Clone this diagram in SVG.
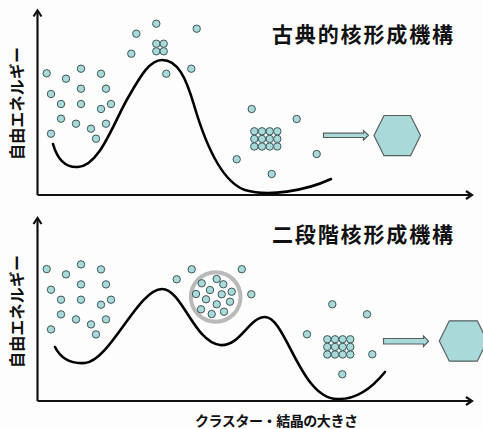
<svg xmlns="http://www.w3.org/2000/svg" width="483" height="429" viewBox="0 0 483 429">
  <style>
    .axis { fill: none; stroke: #111; stroke-width: 2.2; }
    .curve { fill: none; stroke: #000; stroke-width: 2.6; stroke-linecap: round; }
    .p { fill: #a9d9d9; stroke: #3d5757; stroke-width: 1; }
    .solid { fill: #a9d9d9; stroke: #55605f; stroke-width: 1.2; }
    .ring { fill: none; stroke: #b9b9b9; stroke-width: 4; }
    .title { font-family: "Noto Sans CJK JP", "Noto Sans", sans-serif; font-weight: bold; font-size: 21px; fill: #111; }
    .lbl { font-family: "Noto Sans CJK JP", "Noto Sans", sans-serif; font-weight: bold; font-size: 16px; fill: #111; }
    .xlbl { font-family: "Noto Sans CJK JP", "Noto Sans", sans-serif; font-weight: bold; font-size: 14px; fill: #111; }
  </style>
  <defs>
    <marker id="tip" markerUnits="userSpaceOnUse" markerWidth="14" markerHeight="14" refX="0" refY="0" viewBox="-8 -7 10 14" orient="auto">
      <path d="M-6,-4 L0,0 L-6,4" fill="none" stroke="#111" stroke-width="2.2" stroke-linejoin="miter"/>
    </marker>
  </defs>
  <rect width="483" height="429" fill="#fdfdfe"/>

  <!-- upper panel: classical nucleation -->
  <g id="classical">
    <g id="axes-top">
      <path class="axis" d="M37.5,195 V10.5" marker-end="url(#tip)"/>
      <path class="axis" d="M37.5,195 H472" marker-end="url(#tip)"/>
    </g>
    <text class="lbl" transform="translate(16,103.5) rotate(-90)" text-anchor="middle" dominant-baseline="central" textLength="113" lengthAdjust="spacing">自由エネルギー</text>
    <text class="title" x="362.5" y="41.5" text-anchor="middle" textLength="181" lengthAdjust="spacing">古典的核形成機構</text>
    <path class="curve" d="M53,144 C57,158 64,168 78,167 C100,166 114,121 129,96 C141,75 150,60 162,60 C178,60 186,78 194,105 C206,146 222,182 245,190 C268,197 305,191 331,179"/>
    <g id="monomers-top">
      <circle class="p" cx="46.7" cy="73.3" r="3.7"/>
      <circle class="p" cx="66" cy="78.7" r="3.7"/>
      <circle class="p" cx="81" cy="68.7" r="3.7"/>
      <circle class="p" cx="101" cy="73.7" r="3.7"/>
      <circle class="p" cx="51" cy="94" r="3.7"/>
      <circle class="p" cx="81" cy="88.7" r="3.7"/>
      <circle class="p" cx="106" cy="88.7" r="3.7"/>
      <circle class="p" cx="61" cy="104" r="3.7"/>
      <circle class="p" cx="81" cy="104" r="3.7"/>
      <circle class="p" cx="101" cy="109" r="3.7"/>
      <circle class="p" cx="111" cy="104" r="3.7"/>
      <circle class="p" cx="61" cy="118.7" r="3.7"/>
      <circle class="p" cx="76" cy="123.7" r="3.7"/>
      <circle class="p" cx="91" cy="128.7" r="3.7"/>
      <circle class="p" cx="106" cy="123.7" r="3.7"/>
      <circle class="p" cx="51" cy="133.7" r="3.7"/>
      <circle class="p" cx="96" cy="138.7" r="3.7"/>
      <circle class="p" cx="156.3" cy="23.7" r="3.7"/>
      <circle class="p" cx="136.3" cy="33.7" r="3.7"/>
      <circle class="p" cx="196.7" cy="28.7" r="3.7"/>
      <circle class="p" cx="131.3" cy="53.7" r="3.7"/>
      <circle class="p" cx="166.3" cy="73.7" r="3.7"/>
      <circle class="p" cx="191.3" cy="68.7" r="3.7"/>
      <circle class="p" cx="251.7" cy="109" r="3.7"/>
      <circle class="p" cx="296.7" cy="119" r="3.7"/>
      <circle class="p" cx="236.7" cy="159.3" r="3.7"/>
      <circle class="p" cx="271.7" cy="174" r="3.7"/>
      <circle class="p" cx="316.7" cy="154" r="3.7"/>
    </g>
    <g id="critical-nucleus-top">
      <circle class="p" cx="156.3" cy="43.7" r="3.7"/>
      <circle class="p" cx="163.7" cy="43.7" r="3.7"/>
      <circle class="p" cx="156.3" cy="51.3" r="3.7"/>
      <circle class="p" cx="163.7" cy="51.3" r="3.7"/>
    </g>
    <g id="lattice-top">
      <circle class="p" cx="254.3" cy="131.3" r="3.7"/>
      <circle class="p" cx="262" cy="131.3" r="3.7"/>
      <circle class="p" cx="269.7" cy="131.3" r="3.7"/>
      <circle class="p" cx="277.3" cy="131.3" r="3.7"/>
      <circle class="p" cx="254.3" cy="138.9" r="3.7"/>
      <circle class="p" cx="262" cy="138.9" r="3.7"/>
      <circle class="p" cx="269.7" cy="138.9" r="3.7"/>
      <circle class="p" cx="277.3" cy="138.9" r="3.7"/>
      <circle class="p" cx="254.3" cy="146.5" r="3.7"/>
      <circle class="p" cx="262" cy="146.5" r="3.7"/>
      <circle class="p" cx="269.7" cy="146.5" r="3.7"/>
      <circle class="p" cx="277.3" cy="146.5" r="3.7"/>
    </g>
    <path class="solid" d="M323.5,133.2 H363.5 V130.6 L368.5,135.3 L363.5,140 V137.5 H323.5 Z"/>
    <polygon class="solid" points="374,135.5 384,115.5 410.5,115.5 420.5,135.5 410.5,155.7 384,155.7"/>
  </g>

  <!-- lower panel: two-step nucleation -->
  <g id="two-step">
    <g id="axes-bottom">
      <path class="axis" d="M37.5,401 V218" marker-end="url(#tip)"/>
      <path class="axis" d="M37.5,401 H472" marker-end="url(#tip)"/>
    </g>
    <text class="lbl" transform="translate(16,311.5) rotate(-90)" text-anchor="middle" dominant-baseline="central" textLength="113" lengthAdjust="spacing">自由エネルギー</text>
    <text class="title" x="362.5" y="242" text-anchor="middle" textLength="181" lengthAdjust="spacing">二段階核形成機構</text>
    <path class="curve" d="M55,347 C61,359 71,364 85,363 C110,361 138,289 162,289 C182,289 194,342 220,345 C240,347 249,317 265,317 C286,317 300,398 337,399 C355,400 372,388 385,372"/>
    <g id="monomers-bottom">
      <circle class="p" cx="46.7" cy="269.1" r="3.7"/>
      <circle class="p" cx="66" cy="274.4" r="3.7"/>
      <circle class="p" cx="81" cy="264.4" r="3.7"/>
      <circle class="p" cx="101" cy="269.4" r="3.7"/>
      <circle class="p" cx="51" cy="289.7" r="3.7"/>
      <circle class="p" cx="81" cy="284.4" r="3.7"/>
      <circle class="p" cx="106" cy="284.4" r="3.7"/>
      <circle class="p" cx="61" cy="299.7" r="3.7"/>
      <circle class="p" cx="81" cy="299.7" r="3.7"/>
      <circle class="p" cx="101" cy="304.7" r="3.7"/>
      <circle class="p" cx="111" cy="299.7" r="3.7"/>
      <circle class="p" cx="61" cy="314.4" r="3.7"/>
      <circle class="p" cx="76" cy="319.4" r="3.7"/>
      <circle class="p" cx="91" cy="324.4" r="3.7"/>
      <circle class="p" cx="106" cy="319.4" r="3.7"/>
      <circle class="p" cx="51" cy="329.4" r="3.7"/>
      <circle class="p" cx="96" cy="334.4" r="3.7"/>
      <circle class="p" cx="176.7" cy="279.3" r="3.7"/>
      <circle class="p" cx="191.7" cy="269.3" r="3.7"/>
      <circle class="p" cx="241.8" cy="269.2" r="3.7"/>
      <circle class="p" cx="251.3" cy="294.3" r="3.7"/>
      <circle class="p" cx="332.3" cy="304.3" r="3.7"/>
      <circle class="p" cx="367" cy="314.3" r="3.7"/>
      <circle class="p" cx="307" cy="334.3" r="3.7"/>
      <circle class="p" cx="372.3" cy="354.3" r="3.7"/>
      <circle class="p" cx="342.3" cy="374.3" r="3.7"/>
    </g>
    <g id="dense-liquid">
      <circle class="ring" cx="215.7" cy="297" r="24.8"/>
      <circle class="p" cx="201.7" cy="283.3" r="3.7"/>
      <circle class="p" cx="216.7" cy="279" r="3.7"/>
      <circle class="p" cx="223.3" cy="284.3" r="3.7"/>
      <circle class="p" cx="210" cy="290" r="3.7"/>
      <circle class="p" cx="231.7" cy="291.7" r="3.7"/>
      <circle class="p" cx="196" cy="294" r="3.7"/>
      <circle class="p" cx="221.7" cy="294.3" r="3.7"/>
      <circle class="p" cx="206" cy="299.3" r="3.7"/>
      <circle class="p" cx="230" cy="301.7" r="3.7"/>
      <circle class="p" cx="216.7" cy="304.3" r="3.7"/>
      <circle class="p" cx="201" cy="309.3" r="3.7"/>
      <circle class="p" cx="211.7" cy="314" r="3.7"/>
      <circle class="p" cx="224" cy="311.7" r="3.7"/>
    </g>
    <g id="lattice-bottom">
      <circle class="p" cx="327.3" cy="339.3" r="3.7"/>
      <circle class="p" cx="335" cy="339.3" r="3.7"/>
      <circle class="p" cx="342.7" cy="339.3" r="3.7"/>
      <circle class="p" cx="350.3" cy="339.3" r="3.7"/>
      <circle class="p" cx="327.3" cy="346.9" r="3.7"/>
      <circle class="p" cx="335" cy="346.9" r="3.7"/>
      <circle class="p" cx="342.7" cy="346.9" r="3.7"/>
      <circle class="p" cx="350.3" cy="346.9" r="3.7"/>
      <circle class="p" cx="327.3" cy="354.5" r="3.7"/>
      <circle class="p" cx="335" cy="354.5" r="3.7"/>
      <circle class="p" cx="342.7" cy="354.5" r="3.7"/>
      <circle class="p" cx="350.3" cy="354.5" r="3.7"/>
    </g>
    <path class="solid" d="M383.5,338.5 H423.5 V336 L428.5,341.2 L423.5,346.4 V344 H383.5 Z"/>
    <polygon class="solid" points="439.3,341 449.3,320.8 477.3,320.8 487.3,341 477.3,361.2 449.3,361.2"/>
  </g>

  <text class="xlbl" x="276.5" y="425.5" text-anchor="middle" textLength="163" lengthAdjust="spacing">クラスター・結晶の大きさ</text>
</svg>
